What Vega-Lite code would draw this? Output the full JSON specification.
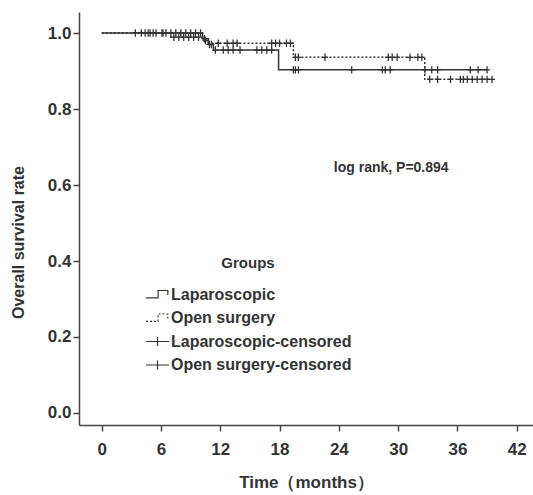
{
  "$schema": "https://vega.github.io/schema/vega-lite/v6.json",
  "width": 454,
  "height": 413,
  "autosize": {"type": "none"},
  "padding": {"left": 79, "top": 12, "right": 0, "bottom": 70},
  "background": "white",
  "config": {
    "view": {"stroke": null},
    "font": "Liberation Sans",
    "axis": {
      "grid": false,
      "domainColor": "#444",
      "domainWidth": 1.5,
      "tickColor": "#444",
      "tickWidth": 1.5,
      "tickSize": 6,
      "labelFont": "Liberation Sans",
      "labelFontWeight": "bold",
      "labelFontSize": 17,
      "labelColor": "#333",
      "titleFont": "Liberation Sans",
      "titleFontWeight": "bold",
      "titleFontSize": 17,
      "titleColor": "#333"
    }
  },
  "datasets": {
    "curves": [
      {"key": "Laparoscopic", "t": 0, "s": 1.0},
      {"key": "Laparoscopic", "t": 10.2, "s": 0.985},
      {"key": "Laparoscopic", "t": 10.8, "s": 0.97},
      {"key": "Laparoscopic", "t": 11.3, "s": 0.955},
      {"key": "Laparoscopic", "t": 17.9, "s": 0.903},
      {"key": "Laparoscopic", "t": 39.0, "s": 0.903},
      {"key": "Open surgery", "t": 0, "s": 1.0},
      {"key": "Open surgery", "t": 7.0, "s": 0.989},
      {"key": "Open surgery", "t": 10.3, "s": 0.98},
      {"key": "Open surgery", "t": 10.8, "s": 0.973},
      {"key": "Open surgery", "t": 19.4, "s": 0.936},
      {"key": "Open surgery", "t": 32.7, "s": 0.878},
      {"key": "Open surgery", "t": 39.5, "s": 0.878}
    ],
    "censored": [
      {"key": "Laparoscopic-censored", "t": 3.4, "s": 1.0},
      {"key": "Laparoscopic-censored", "t": 4.4, "s": 1.0},
      {"key": "Laparoscopic-censored", "t": 4.9, "s": 1.0},
      {"key": "Laparoscopic-censored", "t": 5.5, "s": 1.0},
      {"key": "Laparoscopic-censored", "t": 6.1, "s": 1.0},
      {"key": "Laparoscopic-censored", "t": 6.5, "s": 1.0},
      {"key": "Laparoscopic-censored", "t": 7.0, "s": 1.0},
      {"key": "Laparoscopic-censored", "t": 7.5, "s": 1.0},
      {"key": "Laparoscopic-censored", "t": 8.0, "s": 1.0},
      {"key": "Laparoscopic-censored", "t": 8.5, "s": 1.0},
      {"key": "Laparoscopic-censored", "t": 9.0, "s": 1.0},
      {"key": "Laparoscopic-censored", "t": 9.5, "s": 1.0},
      {"key": "Laparoscopic-censored", "t": 10.0, "s": 1.0},
      {"key": "Laparoscopic-censored", "t": 10.4, "s": 0.985},
      {"key": "Laparoscopic-censored", "t": 10.9, "s": 0.97},
      {"key": "Laparoscopic-censored", "t": 11.1, "s": 0.97},
      {"key": "Laparoscopic-censored", "t": 11.5, "s": 0.955},
      {"key": "Laparoscopic-censored", "t": 12.3, "s": 0.955},
      {"key": "Laparoscopic-censored", "t": 12.8, "s": 0.955},
      {"key": "Laparoscopic-censored", "t": 13.3, "s": 0.955},
      {"key": "Laparoscopic-censored", "t": 14.0, "s": 0.955},
      {"key": "Laparoscopic-censored", "t": 15.7, "s": 0.955},
      {"key": "Laparoscopic-censored", "t": 16.2, "s": 0.955},
      {"key": "Laparoscopic-censored", "t": 16.7, "s": 0.955},
      {"key": "Laparoscopic-censored", "t": 17.2, "s": 0.955},
      {"key": "Laparoscopic-censored", "t": 19.4, "s": 0.903},
      {"key": "Laparoscopic-censored", "t": 19.6, "s": 0.903},
      {"key": "Laparoscopic-censored", "t": 19.9, "s": 0.903},
      {"key": "Laparoscopic-censored", "t": 25.3, "s": 0.903},
      {"key": "Laparoscopic-censored", "t": 28.4, "s": 0.903},
      {"key": "Laparoscopic-censored", "t": 28.7, "s": 0.903},
      {"key": "Laparoscopic-censored", "t": 29.2, "s": 0.903},
      {"key": "Laparoscopic-censored", "t": 32.7, "s": 0.903},
      {"key": "Laparoscopic-censored", "t": 33.4, "s": 0.903},
      {"key": "Laparoscopic-censored", "t": 34.0, "s": 0.903},
      {"key": "Laparoscopic-censored", "t": 37.3, "s": 0.903},
      {"key": "Laparoscopic-censored", "t": 38.1, "s": 0.903},
      {"key": "Laparoscopic-censored", "t": 39.0, "s": 0.903},
      {"key": "Open surgery-censored", "t": 4.0, "s": 1.0},
      {"key": "Open surgery-censored", "t": 4.7, "s": 1.0},
      {"key": "Open surgery-censored", "t": 5.2, "s": 1.0},
      {"key": "Open surgery-censored", "t": 6.2, "s": 1.0},
      {"key": "Open surgery-censored", "t": 7.3, "s": 0.989},
      {"key": "Open surgery-censored", "t": 7.8, "s": 0.989},
      {"key": "Open surgery-censored", "t": 8.3, "s": 0.989},
      {"key": "Open surgery-censored", "t": 8.8, "s": 0.989},
      {"key": "Open surgery-censored", "t": 9.3, "s": 0.989},
      {"key": "Open surgery-censored", "t": 9.8, "s": 0.989},
      {"key": "Open surgery-censored", "t": 10.5, "s": 0.98},
      {"key": "Open surgery-censored", "t": 11.8, "s": 0.973},
      {"key": "Open surgery-censored", "t": 12.7, "s": 0.973},
      {"key": "Open surgery-censored", "t": 13.3, "s": 0.973},
      {"key": "Open surgery-censored", "t": 13.7, "s": 0.973},
      {"key": "Open surgery-censored", "t": 17.2, "s": 0.973},
      {"key": "Open surgery-censored", "t": 17.6, "s": 0.973},
      {"key": "Open surgery-censored", "t": 18.0, "s": 0.973},
      {"key": "Open surgery-censored", "t": 18.7, "s": 0.973},
      {"key": "Open surgery-censored", "t": 19.1, "s": 0.973},
      {"key": "Open surgery-censored", "t": 19.6, "s": 0.936},
      {"key": "Open surgery-censored", "t": 19.9, "s": 0.936},
      {"key": "Open surgery-censored", "t": 22.6, "s": 0.936},
      {"key": "Open surgery-censored", "t": 29.0, "s": 0.936},
      {"key": "Open surgery-censored", "t": 29.4, "s": 0.936},
      {"key": "Open surgery-censored", "t": 29.9, "s": 0.936},
      {"key": "Open surgery-censored", "t": 31.2, "s": 0.936},
      {"key": "Open surgery-censored", "t": 32.0, "s": 0.936},
      {"key": "Open surgery-censored", "t": 32.4, "s": 0.936},
      {"key": "Open surgery-censored", "t": 33.2, "s": 0.878},
      {"key": "Open surgery-censored", "t": 34.0, "s": 0.878},
      {"key": "Open surgery-censored", "t": 35.3, "s": 0.878},
      {"key": "Open surgery-censored", "t": 36.3, "s": 0.878},
      {"key": "Open surgery-censored", "t": 36.6, "s": 0.878},
      {"key": "Open surgery-censored", "t": 37.0, "s": 0.878},
      {"key": "Open surgery-censored", "t": 37.5, "s": 0.878},
      {"key": "Open surgery-censored", "t": 38.0, "s": 0.878},
      {"key": "Open surgery-censored", "t": 38.5, "s": 0.878},
      {"key": "Open surgery-censored", "t": 39.0, "s": 0.878},
      {"key": "Open surgery-censored", "t": 39.5, "s": 0.878}
    ],
    "notes": [
      {"text": "log rank, P=0.894", "t": 29.3, "s": 0.645}
    ]
  },
  "encoding": {
    "x": {
      "field": "t",
      "type": "quantitative",
      "scale": {"domain": [-2.3, 43.65], "nice": false, "zero": false},
      "axis": {"values": [0, 6, 12, 18, 24, 30, 36, 42], "title": "Time（months）", "labelPadding": 10, "titlePadding": 17}
    },
    "y": {
      "field": "s",
      "type": "quantitative",
      "scale": {"domain": [-0.0316, 1.0553], "nice": false, "zero": false},
      "axis": {"values": [0, 0.2, 0.4, 0.6, 0.8, 1.0], "format": ".1f", "title": "Overall survival rate", "titleFontSize": 16, "labelPadding": 2, "titleY": 230, "titleX": -53}
    }
  },
  "layer": [
    {
      "data": {"values": [{}]},
      "mark": {"type": "rule", "color": "#666", "strokeWidth": 1.2},
      "encoding": {"y": {"datum": 1.0553}}
    },
    {
      "data": {"name": "curves"},
      "mark": {"type": "line", "interpolate": "step-after", "color": "#333", "strokeWidth": 1.5},
      "encoding": {
        "strokeDash": {
          "field": "key",
          "type": "nominal",
          "scale": {
            "domain": ["Laparoscopic", "Open surgery", "Laparoscopic-censored", "Open surgery-censored"],
            "range": [[1, 0], [2, 2], [1, 0], [1, 0]]
          },
          "legend": {
            "title": "Groups",
            "orient": "none",
            "legendX": 66,
            "legendY": 244,
            "titleAnchor": "middle",
            "titleFontSize": 15,
            "titleFontWeight": "bold",
            "titleColor": "#333",
            "titleFont": "Liberation Sans",
            "titlePadding": 11,
            "labelFont": "Liberation Sans",
            "labelFontSize": 16,
            "labelFontWeight": "bold",
            "labelColor": "#333",
            "labelOffset": 1,
            "labelLimit": 400,
            "rowPadding": 2.5,
            "symbolSize": 529,
            "symbolStrokeWidth": 1.2,
            "symbolStrokeColor": "#333",
            "symbolFillColor": "transparent",
            "encode": {
              "symbols": {
                "update": {
                  "shape": {"signal": "indexof(datum.value, 'censored') >= 0 ? 'M-1,0H1M0,-0.4V0.4' : 'M-1,0.3H0.05V-0.35H0.9V0.05'"},
                  "fill": {"value": "transparent"},
                  "stroke": {"value": "#333"}
                }
              }
            }
          }
        }
      }
    },
    {
      "data": {"name": "censored"},
      "mark": {"type": "point", "shape": "M-0.8,0H0.8M0,-1V1", "size": 56, "color": "#333", "filled": false, "strokeWidth": 1.3, "opacity": 1},
      "encoding": {
        "strokeDash": {"field": "key", "type": "nominal"}
      }
    },
    {
      "data": {"name": "notes"},
      "mark": {"type": "text", "font": "Liberation Sans", "fontSize": 14, "fontWeight": "bold", "color": "#333", "align": "center", "baseline": "middle"},
      "encoding": {"text": {"field": "text"}}
    }
  ]
}
